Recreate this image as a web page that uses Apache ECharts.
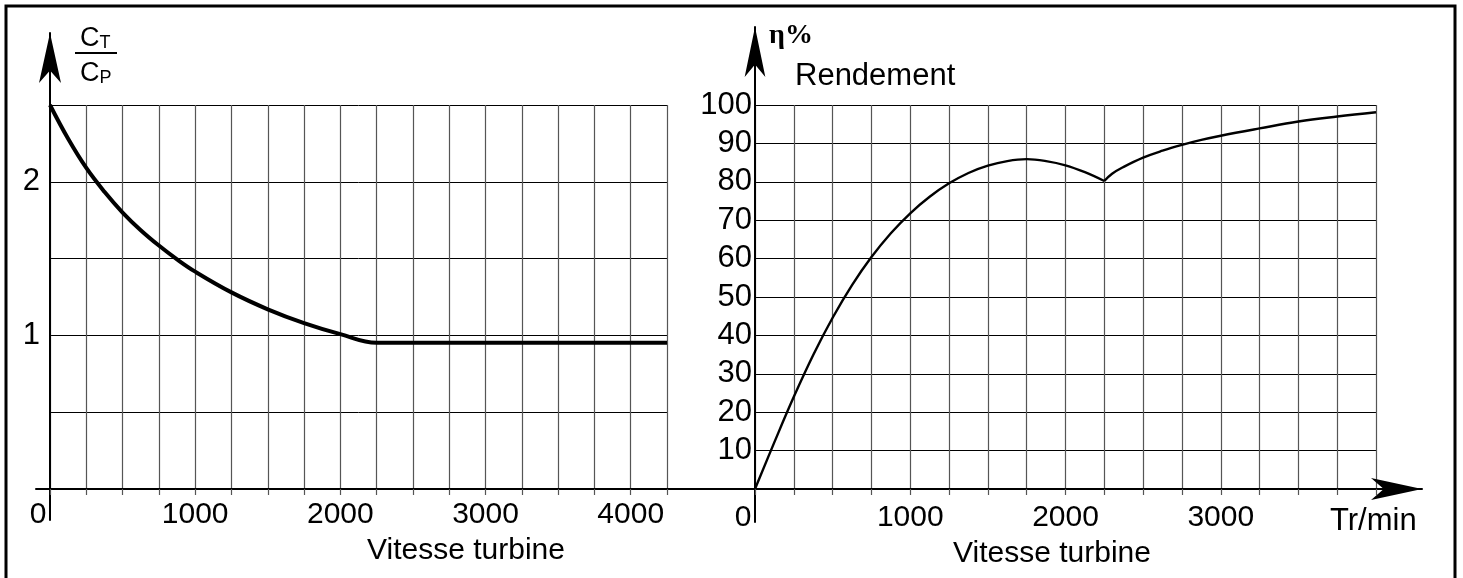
<!DOCTYPE html>
<html><head><meta charset="utf-8">
<script src="https://cdn.jsdelivr.net/npm/echarts@6/dist/echarts.min.js"></script>
<style>html,body{margin:0;padding:0;background:#fff}#c{width:1463px;height:578px}</style>
</head><body><div id="c"></div>
<script>
// ---- data ----
const leftSpeed = [0, 125, 250, 375, 500, 625, 750, 875, 1000, 1250, 1500, 1750, 2000, 2250, 2500, 4250];
const leftRatio = [2.5, 2.28, 2.09, 1.935, 1.80, 1.685, 1.585, 1.495, 1.415, 1.28, 1.17, 1.08, 1.008, 0.952, 0.952, 0.952];

const rightSpeedA = [0, 125, 250, 375, 500, 625, 750, 875, 1000, 1125, 1250, 1375, 1500, 1625, 1750, 1875, 2000, 2125, 2250];
const rightEffA   = [0, 12.2, 24, 34.9, 44.6, 53.1, 60.4, 66.6, 71.8, 76.1, 79.6, 82.3, 84.2, 85.4, 85.9, 85.4, 84.3, 82.5, 80.2];
const rightSpeedB = [2250, 2300, 2375, 2500, 2625, 2750, 2875, 3000, 3250, 3500, 3750, 4000];
const rightEffB   = [80.2, 82.1, 83.9, 86.3, 88.1, 89.6, 90.9, 92, 93.9, 95.7, 97, 98.1];

const leftXLabels = [0, 1000, 2000, 3000, 4000];
const leftYLabels = [1, 2];
const rightXLabels = [0, 1000, 2000, 3000];
const rightYLabels = [10, 20, 30, 40, 50, 60, 70, 80, 90, 100];

const FONT = "'Liberation Sans', Arial, sans-serif";
const zip = (a, b) => a.map((v, i) => [v, b[i]]);

const chart = echarts.init(document.getElementById('c'), null, {renderer: 'canvas'});

function xLabelFmt(list) {
  return v => list.indexOf(v) < 0 ? '' : (v === 0 ? '{z|0}' : '{n|' + v + '}');
}
const xRich = {
  z: {fontSize: 30, fontFamily: FONT, color: '#000', padding: [0, 24, 0, 0]},
  n: {fontSize: 30, fontFamily: FONT, color: '#000'}
};
const vGrid = {show: true, lineStyle: {color: '#555', width: 1.2}};
const hGrid = {show: true, lineStyle: {color: '#000', width: 1}};
const tick = {show: true, length: 6, lineStyle: {color: '#555', width: 1.2}};
const arrowLine = (size) => ({show: true, symbol: ['none', 'arrow'], symbolSize: size, lineStyle: {color: '#000', width: 2}});
const fracRich = {
  c: {fontSize: 27, fontFamily: FONT, verticalAlign: 'bottom', color: '#000'},
  s: {fontSize: 18, fontFamily: FONT, verticalAlign: 'bottom', color: '#000'}
};

chart.setOption({
  animation: false,
  backgroundColor: '#fff',
  grid: [
    {left: 50, top: 105, width: 617, height: 384},
    {left: 755, top: 105, width: 621, height: 384},
    {left: 36, top: 105, width: 1386, height: 384},
    {left: 50, top: 33, width: 10, height: 487},
    {left: 755, top: 27, width: 10, height: 495}
  ],
  xAxis: [
    {gridIndex: 0, type: 'value', min: 0, max: 4250, interval: 250,
      axisLine: {show: false}, axisTick: tick, splitLine: vGrid,
      axisLabel: {formatter: xLabelFmt(leftXLabels), rich: xRich, margin: 11, showMinLabel: true, showMaxLabel: true}},
    {gridIndex: 1, type: 'value', min: 0, max: 4000, interval: 250,
      axisLine: {show: false}, axisTick: tick, splitLine: vGrid,
      axisLabel: {formatter: xLabelFmt(rightXLabels), rich: xRich, margin: 14, showMinLabel: true, showMaxLabel: true}},
    {gridIndex: 2, type: 'value', min: 0, max: 1, axisLine: arrowLine([16.5, 51]),
      axisTick: {show: false}, axisLabel: {show: false}, splitLine: {show: false}},
    {gridIndex: 3, type: 'value', show: false},
    {gridIndex: 4, type: 'value', show: false}
  ],
  yAxis: [
    {gridIndex: 0, type: 'value', min: 0, max: 2.5, interval: 0.5,
      axisLine: {show: false}, axisTick: {show: false}, splitLine: hGrid,
      axisLabel: {formatter: v => leftYLabels.indexOf(v) < 0 ? '' : String(v), fontSize: 31, fontFamily: FONT, color: '#000', margin: 10}},
    {gridIndex: 1, type: 'value', min: 0, max: 100, interval: 10,
      axisLine: {show: false}, axisTick: {show: false}, splitLine: hGrid,
      axisLabel: {formatter: v => rightYLabels.indexOf(v) < 0 ? '' : String(v), fontSize: 31, fontFamily: FONT, color: '#000', margin: 3}},
    {gridIndex: 2, type: 'value', show: false},
    {gridIndex: 3, type: 'value', min: 0, max: 1, axisLine: arrowLine([16.5, 50]),
      axisTick: {show: false}, axisLabel: {show: false}, splitLine: {show: false}},
    {gridIndex: 4, type: 'value', min: 0, max: 1, axisLine: arrowLine([15.5, 50]),
      axisTick: {show: false}, axisLabel: {show: false}, splitLine: {show: false}}
  ],
  series: [
    {name: 'CT/CP', type: 'line', xAxisIndex: 0, yAxisIndex: 0, data: zip(leftSpeed, leftRatio),
      smooth: 0.4, showSymbol: false, clip: false, lineStyle: {color: '#000', width: 4}},
    {name: 'Rendement A', type: 'line', xAxisIndex: 1, yAxisIndex: 1, data: zip(rightSpeedA, rightEffA),
      smooth: 0.4, showSymbol: false, clip: false, lineStyle: {color: '#000', width: 2.4}},
    {name: 'Rendement B', type: 'line', xAxisIndex: 1, yAxisIndex: 1, data: zip(rightSpeedB, rightEffB),
      smooth: 0.4, showSymbol: false, clip: false, lineStyle: {color: '#000', width: 2.4}}
  ],
  graphic: [
    {type: 'rect', silent: true, shape: {x: 6, y: 6, width: 1449, height: 640},
      style: {fill: 'none', stroke: '#000', lineWidth: 3}},
    {type: 'text', silent: true, x: 80, y: 52, style: {text: '{c|C}{s|T}', verticalAlign: 'bottom', rich: fracRich}},
    {type: 'line', silent: true, shape: {x1: 75, y1: 53, x2: 117, y2: 53}, style: {stroke: '#000', lineWidth: 2}},
    {type: 'text', silent: true, x: 80, y: 87, style: {text: '{c|C}{s|P}', verticalAlign: 'bottom', rich: fracRich}},
    {type: 'text', silent: true, x: 769, y: 36, style: {text: 'η%', fontSize: 28, fontWeight: 'bold', fontFamily: "'Liberation Serif', 'DejaVu Serif', serif", fill: '#000', verticalAlign: 'middle'}},
    {type: 'text', silent: true, x: 795, y: 76, style: {text: 'Rendement', fontSize: 31, fontFamily: FONT, fill: '#000', verticalAlign: 'middle'}},
    {type: 'text', silent: true, x: 466, y: 551, style: {text: 'Vitesse turbine', fontSize: 30, fontFamily: FONT, fill: '#000', align: 'center', verticalAlign: 'middle'}},
    {type: 'text', silent: true, x: 1052, y: 554, style: {text: 'Vitesse turbine', fontSize: 30, fontFamily: FONT, fill: '#000', align: 'center', verticalAlign: 'middle'}},
    {type: 'text', silent: true, x: 1330, y: 521, style: {text: 'Tr/min', fontSize: 31, fontFamily: FONT, fill: '#000', verticalAlign: 'middle'}}
  ]
});
</script>
</body></html>
